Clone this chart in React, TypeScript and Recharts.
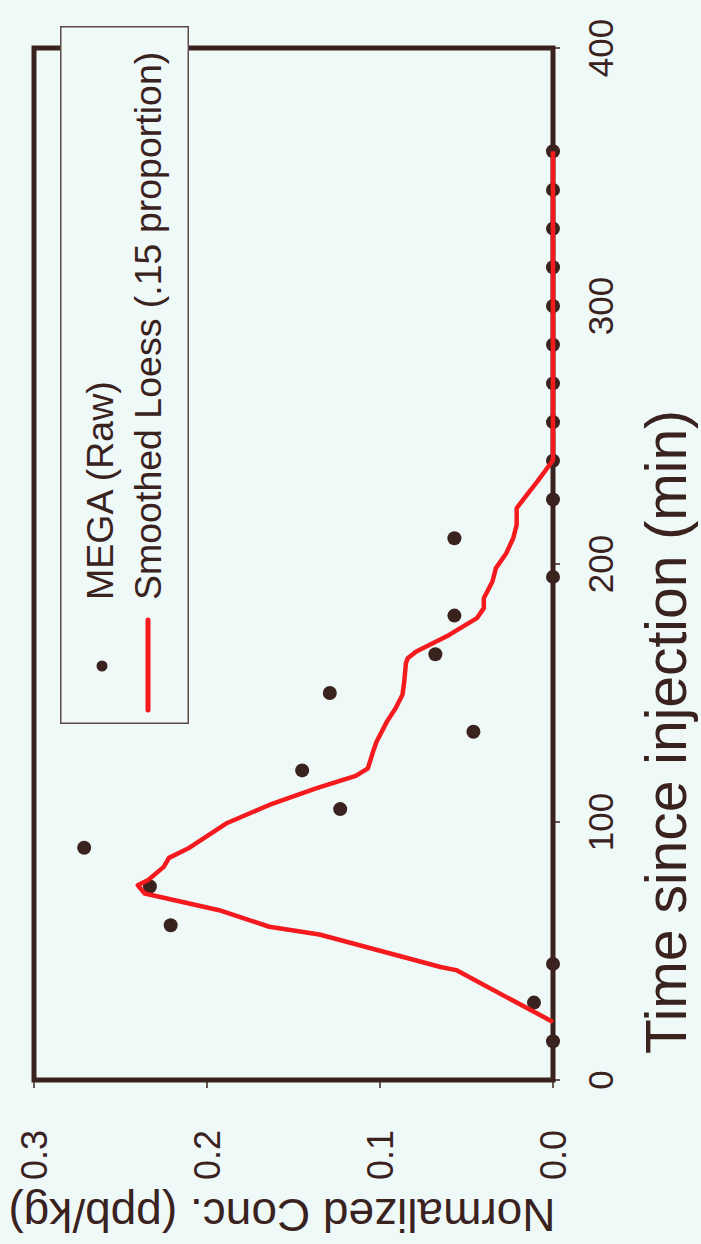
import {
  ComposedChart,
  Label,
  Legend,
  Line,
  ReferenceArea,
  Scatter,
  XAxis,
  YAxis,
} from "recharts";

const INK = "#3a221e";
const RED = "#f41a1e";
const PAPER = "#eff9f8";
const FONT = "'Liberation Sans', Arial, Helvetica, sans-serif";

// raw samples, one every 15 min
const rawTimes = [15, 30, 45, 60, 75, 90, 105, 120, 135, 150, 165, 180, 195, 210, 225, 240, 255, 270, 285, 300, 315, 330, 345, 360];
const rawConc = [0, 0.011, 0, 0.221, 0.233, 0.271, 0.123, 0.145, 0.046, 0.129, 0.068, 0.057, 0, 0.057, 0, 0, 0, 0, 0, 0, 0, 0, 0, 0];

// loess curve vertices
const loessTimes = [
  22.5, 42.6, 43.8, 56.4, 59.4, 65.8, 72.3, 75.5, 77.5, 82.6, 86.1, 89.7, 99.4, 106.6, 113, 117.9, 120.8, 127.3, 131.1,
  138.9, 144.1, 149.3, 154.4, 161.5, 163.5, 166.1, 172.5, 179, 182.9, 186.7, 193.2, 198.4, 204.2, 210, 215.2, 221.7,
  226.9, 232, 240.2, 360,
];
const loessConc = [
  0, 0.056, 0.065, 0.135, 0.164, 0.193, 0.236, 0.24, 0.234, 0.225, 0.222, 0.211, 0.189, 0.164, 0.137, 0.114, 0.107, 0.104,
  0.102, 0.096, 0.091, 0.087, 0.086, 0.085, 0.084, 0.079, 0.06, 0.044, 0.04, 0.04, 0.035, 0.033, 0.027, 0.023, 0.021,
  0.021, 0.015, 0.009, 0, 0,
];

const timeTicks = [0, 100, 200, 300, 400];
const concTicks = [0, 0.1, 0.2, 0.3];

const rawData = rawTimes.map((t, i) => ({ t, c: rawConc[i] }));
const loessData = loessTimes.map((t, i) => ({ t, c: loessConc[i] }));

const LEGEND_W = 698;
const LEGEND_H = 129;
const LEGEND_FONT = 37.5;

function LegendBox(props: any) {
  const items: any[] = props.payload ?? [];
  const raw = items.find((e) => e.type === "circle");
  const smooth = items.find((e) => e.type === "line");
  const rows = [raw, smooth].filter(Boolean);
  return (
    <svg width={LEGEND_W} height={LEGEND_H} style={{ display: "block", overflow: "visible" }}>
      <rect x={0.75} y={0.75} width={LEGEND_W - 1.5} height={LEGEND_H - 1.5} fill={PAPER} stroke="#5e4a44" strokeWidth={1.5} />
      {rows.map((entry, i) => {
        const cy = 40 + i * 48;
        return (
          <g key={entry.value}>
            {entry.type === "circle" ? (
              <circle cx={58} cy={cy + 2} r={5.5} fill={INK} />
            ) : (
              <line x1={14} x2={104} y1={cy} y2={cy} stroke={RED} strokeWidth={5} strokeLinecap="round" />
            )}
            <text x={124} y={cy + 0.358 * LEGEND_FONT} fontSize={LEGEND_FONT} fill={INK} fontFamily={FONT}>
              {entry.value}
            </text>
          </g>
        );
      })}
    </svg>
  );
}

const dot = (p: any) => <circle cx={p.cx} cy={p.cy} r={7} fill={INK} />;

export default function App() {
  return (
    <div style={{ position: "fixed", left: 0, top: 0, width: 701, height: 1244, overflow: "hidden", background: PAPER }}>
      {/* chart is laid out landscape and turned a quarter turn counter-clockwise */}
      <div
        style={{
          position: "absolute",
          left: 0,
          top: 0,
          width: 1244,
          height: 701,
          transformOrigin: "0 0",
          transform: "translate(0px, 1244px) rotate(-90deg)",
        }}
      >
        <ComposedChart width={1244} height={701} margin={{ top: 34, right: 48, bottom: 0, left: 0 }}>
          <XAxis
            dataKey="t"
            type="number"
            domain={[0, 400]}
            ticks={timeTicks}
            height={148}
            axisLine={false}
            tickSize={7}
            tickMargin={28}
            tickLine={{ stroke: INK, strokeWidth: 1.5 }}
            tick={{ fill: INK, fontSize: 35, fontFamily: FONT }}
          >
            <Label
              content={(p: any) => {
                const vb = p.viewBox ?? { x: 164, y: 553 };
                return (
                  <text x={vb.x + 26} y={vb.y + 133} fontSize={57} fill={INK} fontFamily={FONT}>
                    Time since injection (min)
                  </text>
                );
              }}
            />
          </XAxis>
          <YAxis
            dataKey="c"
            type="number"
            domain={[0, 0.3]}
            ticks={concTicks}
            width={164}
            axisLine={false}
            tickSize={8}
            tickMargin={42}
            tickLine={{ stroke: INK, strokeWidth: 1.5 }}
            tick={{ fill: INK, fontSize: 36, fontFamily: FONT }}
            tickFormatter={(v: number) => v.toFixed(1)}
          >
            <Label
              content={() => (
                <text
                  x={45}
                  y={282}
                  transform="rotate(-90, 45, 282)"
                  textAnchor="middle"
                  fontSize={46}
                  fill={INK}
                  fontFamily={FONT}
                >
                  Normalized Conc. (ppb/kg)
                </text>
              )}
            />
          </YAxis>
          <ReferenceArea
            x1={0}
            x2={400}
            y1={0}
            y2={0.3}
            fill="none"
            stroke={INK}
            strokeWidth={5}
            ifOverflow="visible"
          />
          <Scatter
            name="MEGA (Raw)"
            data={rawData}
            fill={INK}
            legendType="circle"
            shape={dot}
            isAnimationActive={false}
          />
          <Line
            name="Smoothed Loess (.15 proportion)"
            data={loessData}
            dataKey="c"
            type="linear"
            stroke={RED}
            strokeWidth={4.5}
            strokeLinejoin="round"
            dot={false}
            activeDot={false}
            legendType="line"
            isAnimationActive={false}
            zIndex={700}
          />
          <Legend
            layout="horizontal"
            verticalAlign="middle"
            align="center"
            content={<LegendBox />}
            wrapperStyle={{ left: 520, top: 60, width: LEGEND_W, height: LEGEND_H }}
          />
        </ComposedChart>
      </div>
    </div>
  );
}
